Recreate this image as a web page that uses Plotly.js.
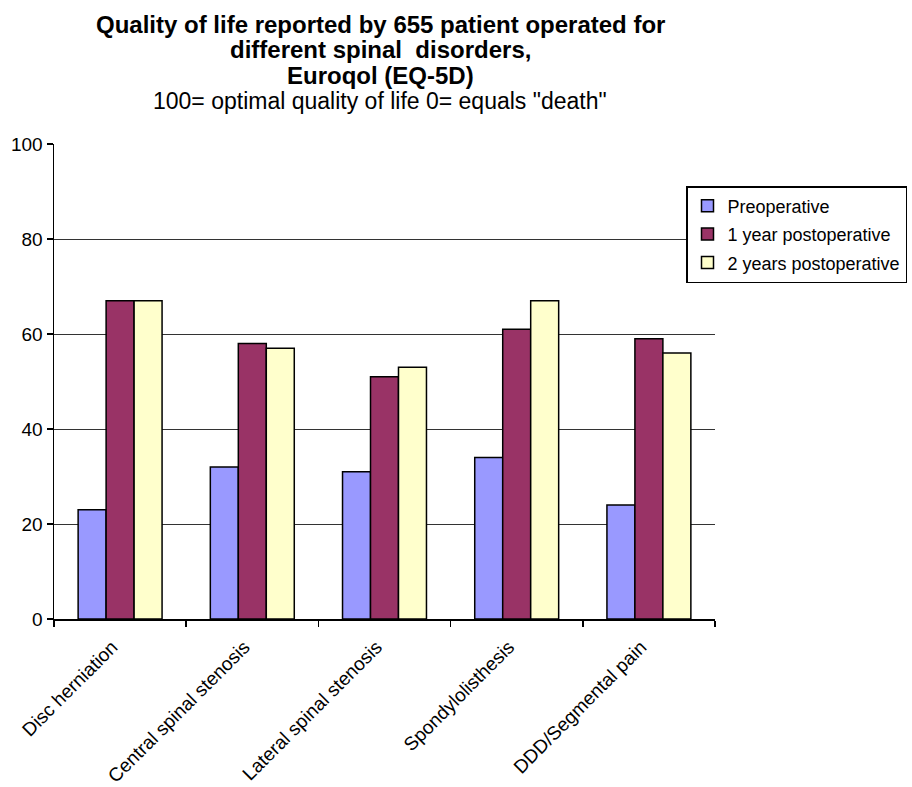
<!DOCTYPE html>
<html>
<head>
<meta charset="utf-8">
<script src="https://cdn.plot.ly/plotly-3.0.1.min.js"></script>
<style>html,body{margin:0;padding:0;background:#fff;}#chart{width:912px;height:787px;}</style>
</head>
<body>
<div id="chart"></div>
<script>
var categories = ["Disc herniation", "Central spinal stenosis", "Lateral spinal stenosis", "Spondylolisthesis", "DDD/Segmental pain"];
var preoperative = [23, 32, 31, 34, 24];
var postop1year = [67, 58, 51, 61, 59];
var postop2years = [67, 57, 53, 67, 56];
var seriesNames = ["Preoperative", "1 year postoperative", "2 years postoperative"];
var yTicks = [0, 20, 40, 60, 80, 100];
var titleLines = ["Quality of life reported by 655 patient operated for", "different spinal  disorders,", "Euroqol (EQ-5D)"];
var subtitle = "100= optimal quality of life 0= equals \"death\"";

var colors = ["#9999FF", "#993366", "#FFFFCC"];
var values = [preoperative, postop1year, postop2years];
var traces = values.map(function (v, i) {
  return {
    type: "bar",
    x: categories,
    y: v,
    name: seriesNames[i],
    legendgroup: "g" + i,
    marker: { color: colors[i], line: { color: "#000", width: 1.5 } },
    hoverinfo: "x+y+name"
  };
});

var font = "Liberation Sans, Arial, sans-serif";
var plotTop = 144, plotBottom = 619, plotH = plotBottom - plotTop;
function py(px) { return (plotBottom - px) / plotH; }

var titleY = [24, 50, 75];
var annotations = titleLines.map(function (t, i) {
  return {
    text: "<b>" + t + "</b>",
    xref: "paper", yref: "paper",
    x: (380 - 54) / 661, y: py(titleY[i]),
    xanchor: "center", yanchor: "middle",
    showarrow: false,
    font: { family: font, size: 24, color: "#000" }
  };
});
annotations.push({
  text: subtitle,
  xref: "paper", yref: "paper",
  x: (380 - 54) / 661, y: py(101),
  xanchor: "center", yanchor: "middle",
  showarrow: false,
  font: { family: font, size: 23, color: "#000" }
});

var layout = {
  width: 912, height: 787,
  paper_bgcolor: "#fff", plot_bgcolor: "#fff",
  margin: { l: 54, r: 197, t: 144, b: 168, autoexpand: false },
  barmode: "group",
  bargap: 0.365, bargroupgap: 0,
  font: { family: font, size: 18, color: "#000" },
  annotations: annotations,
  xaxis: {
    type: "category",
    tickangle: -45,
    tickfont: { family: font, size: 19, color: "#000" },
    showline: true, linecolor: "#000", linewidth: 1.5,
    ticks: "outside", ticklen: 6, tickcolor: "#000", tickwidth: 1.5,
    tickson: "boundaries",
    ticklabelstandoff: 8,
    ticklabelshift: -8,
    showgrid: false,
    zeroline: false,
    automargin: false
  },
  yaxis: {
    range: [0, 100],
    tickvals: yTicks,
    ticktext: yTicks.map(String),
    tickfont: { family: font, size: 19, color: "#000" },
    showline: true, linecolor: "#000", linewidth: 1.5,
    ticks: "outside", ticklen: 6, tickcolor: "#000", tickwidth: 1.5,
    showgrid: true, gridcolor: "#333", gridwidth: 1,
    zeroline: false,
    fixedrange: true,
    automargin: false
  },
  showlegend: true,
  legend: {
    x: (686 - 54) / 661, xanchor: "left",
    y: py(186), yanchor: "top",
    bgcolor: "#fff",
    bordercolor: "#000", borderwidth: 1.5,
    font: { family: font, size: 18, color: "#000" },
    traceorder: "grouped",
    tracegroupgap: 2,
    itemwidth: 30
  }
};

Plotly.newPlot("chart", traces, layout, { displayModeBar: false, staticPlot: true });
</script>
</body>
</html>
